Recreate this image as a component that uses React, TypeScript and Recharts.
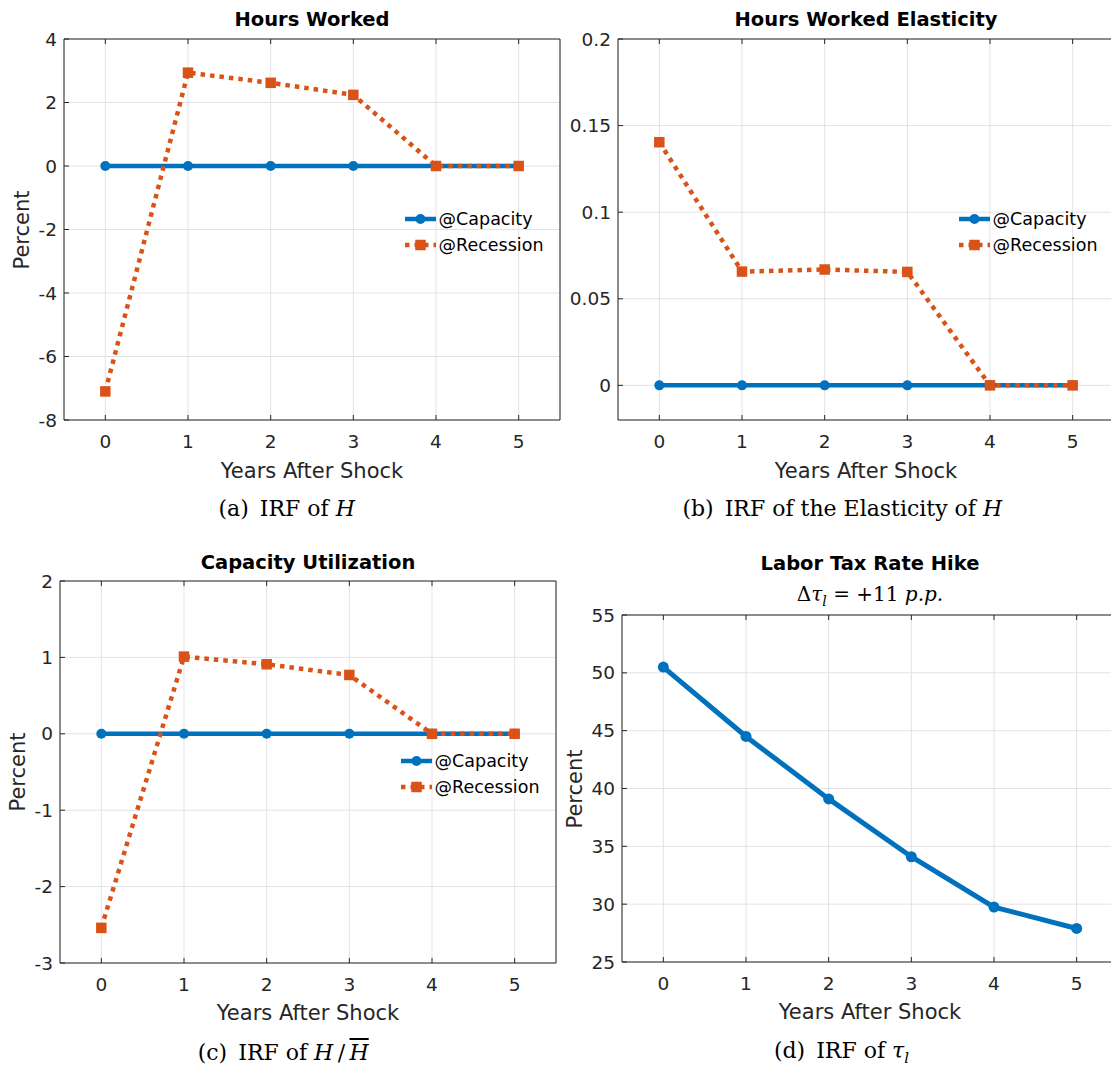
import React from 'react';
import { LineChart, Line, XAxis, YAxis, CartesianGrid, Legend } from 'recharts';

// years after the shock
const years = [0, 1, 2, 3, 4, 5];
const xTicks = [0, 1, 2, 3, 4, 5];

// (a) hours worked, percent
const hoursCapacity = [0, 0, 0, 0, 0, 0];
const hoursRecession = [-7.1, 2.94, 2.62, 2.24, 0, 0];
const hoursTicks = [-8, -6, -4, -2, 0, 2, 4];

// (b) hours worked elasticity
const elastCapacity = [0, 0, 0, 0, 0, 0];
const elastRecession = [0.1404, 0.0657, 0.0669, 0.0655, 0, 0];
const elastTicks = [0, 0.05, 0.1, 0.15, 0.2];

// (c) capacity utilization, percent
const utilCapacity = [0, 0, 0, 0, 0, 0];
const utilRecession = [-2.54, 1.01, 0.91, 0.77, 0, 0];
const utilTicks = [-3, -2, -1, 0, 1, 2];

// (d) labor tax rate, percent
const taxRate = [50.5, 44.5, 39.1, 34.1, 29.75, 27.9];
const taxTicks = [25, 30, 35, 40, 45, 50, 55];

const BLUE = '#0072BD';
const ORANGE = '#D95319';
const AXIS = '#262626';
const GRID = '#e3e3e3';
const SANS = '"DejaVu Sans", sans-serif';
const SERIF = '"DejaVu Serif", serif';
const DASH = '4.5 5';

const AX_W = 64;
const AX_H = 40;
const PAD = 10;

type Box = { left: number; top: number; width: number; height: number };
type Series = { key: string; name: string; color: string; dashed?: boolean; width?: number; r?: number };

const pairData = (a: number[], b: number[]) => years.map((t, i) => ({ t, cap: a[i], rec: b[i] }));

const squareDot = (props: any) => {
  const { cx, cy, index } = props;
  if (cx == null || cy == null) return <g key={`sq-${index}`} />;
  return <rect key={`sq-${index}`} x={cx - 5.25} y={cy - 5.25} width={10.5} height={10.5} fill={ORANGE} />;
};

const twoSeries: Series[] = [
  { key: 'cap', name: '@Capacity', color: BLUE },
  { key: 'rec', name: '@Recession', color: ORANGE, dashed: true },
];

const LegendBox = () => (
  <div style={{ fontFamily: SANS, fontSize: 17.5, color: '#000' }}>
    {twoSeries.map((s) => (
      <div key={s.key} style={{ display: 'flex', alignItems: 'center', height: 25.5, whiteSpace: 'nowrap' }}>
        <svg width={34} height={14} style={{ display: 'block' }}>
          <line x1={0} x2={31} y1={7} y2={7} stroke={s.color} strokeWidth={4.5} strokeDasharray={s.dashed ? DASH : undefined} />
          {s.dashed ? (
            <rect x={10.25} y={1.75} width={10.5} height={10.5} fill={ORANGE} />
          ) : (
            <circle cx={15.5} cy={7} r={5} fill={BLUE} />
          )}
        </svg>
        <span>{s.name}</span>
      </div>
    ))}
  </div>
);

const tickStyle = { fill: AXIS, fontSize: 18.5, fontFamily: SANS };

function Panel({ box, data, yDomain, yTicks, series, legend }: {
  box: Box; data: any[]; yDomain: [number, number]; yTicks: number[]; series: Series[]; legend?: boolean;
}) {
  const unit = box.width / 6;
  const legendLeft = AX_W + 4.12 * unit;
  return (
    <div style={{ position: 'absolute', left: box.left - AX_W, top: box.top - PAD }}>
      <LineChart
        width={box.width + AX_W + PAD}
        height={box.height + PAD + AX_H}
        data={data}
        margin={{ top: PAD - 1, right: PAD - 1, left: 0, bottom: 0 }}
      >
        <CartesianGrid stroke={GRID} />
        <XAxis type="number" dataKey="t" domain={[-0.5, 5.5]} ticks={xTicks} interval={0}
          height={AX_H} tickSize={-5} tickMargin={20} stroke={AXIS} tick={tickStyle} />
        <XAxis xAxisId="top" orientation="top" type="number" dataKey="t" domain={[-0.5, 5.5]} ticks={xTicks}
          interval={0} height={1} tickSize={-5} tickFormatter={() => ''} stroke={AXIS}
          axisLine={{ stroke: AXIS }} tickLine={{ stroke: AXIS }} />
        <YAxis type="number" domain={yDomain} ticks={yTicks} interval={0} width={AX_W}
          tickSize={-5} tickMargin={12} stroke={AXIS} tick={tickStyle} />
        <YAxis yAxisId="right" orientation="right" type="number" domain={yDomain} ticks={yTicks} interval={0}
          width={1} tickSize={-5} tickFormatter={() => ''} stroke={AXIS}
          axisLine={{ stroke: AXIS }} tickLine={{ stroke: AXIS }} />
        {series.map((s) => (
          <Line
            key={s.key}
            type="linear"
            dataKey={s.key}
            name={s.name}
            stroke={s.color}
            strokeWidth={s.width ?? 4.5}
            strokeDasharray={s.dashed ? DASH : undefined}
            dot={s.dashed ? squareDot : { r: s.r ?? 5, fill: s.color, stroke: s.color, strokeWidth: 0 }}
            activeDot={false}
            isAnimationActive={false}
          />
        ))}
        {legend && (
          <Legend
            layout="vertical"
            align="center"
            verticalAlign="middle"
            wrapperStyle={{ left: legendLeft, top: PAD + 180 - 12.75, width: 'auto' }}
            content={() => <LegendBox />}
          />
        )}
      </LineChart>
    </div>
  );
}

const Label = ({ x, y, children, style }: { x: number; y: number; children: React.ReactNode; style?: React.CSSProperties }) => (
  <div style={{
    position: 'absolute', left: x, top: y, transform: 'translate(-50%, -50%)',
    whiteSpace: 'nowrap', lineHeight: 1, ...style,
  }}>{children}</div>
);

const titleStyle: React.CSSProperties = { fontFamily: SANS, fontWeight: 'bold', fontSize: 19.5, color: '#000' };
const xLabelStyle: React.CSSProperties = { fontFamily: SANS, fontSize: 21, color: AXIS };
const yLabelStyle: React.CSSProperties = { fontFamily: SANS, fontSize: 21, color: AXIS, transform: 'translate(-50%, -50%) rotate(-90deg)' };
const capStyle: React.CSSProperties = { fontFamily: SERIF, fontSize: 22, color: '#000' };

const boxA: Box = { left: 64, top: 39, width: 496, height: 381 };
const boxB: Box = { left: 618, top: 39, width: 496, height: 381 };
const boxC: Box = { left: 60, top: 581, width: 496, height: 382 };
const boxD: Box = { left: 622, top: 615, width: 496, height: 347 };

export default function App() {
  return (
    <div style={{ position: 'absolute', left: 0, top: 0, width: 1111, height: 1068, overflow: 'hidden', background: '#fff' }}>
      <Panel box={boxA} data={pairData(hoursCapacity, hoursRecession)} yDomain={[-8, 4]} yTicks={hoursTicks} series={twoSeries} legend />
      <Panel box={boxB} data={pairData(elastCapacity, elastRecession)} yDomain={[-0.02, 0.2]} yTicks={elastTicks} series={twoSeries} legend />
      <Panel box={boxC} data={pairData(utilCapacity, utilRecession)} yDomain={[-3, 2]} yTicks={utilTicks} series={twoSeries} legend />
      <Panel
        box={boxD}
        data={years.map((t, i) => ({ t, tax: taxRate[i] }))}
        yDomain={[25, 55]}
        yTicks={taxTicks}
        series={[{ key: 'tax', name: 'Tax rate', color: BLUE, width: 5, r: 5.5 }]}
      />

      <Label x={312} y={19.5} style={titleStyle}>Hours Worked</Label>
      <Label x={866} y={19.5} style={titleStyle}>Hours Worked Elasticity</Label>
      <Label x={308} y={562.5} style={titleStyle}>Capacity Utilization</Label>
      <Label x={870} y={564} style={titleStyle}>Labor Tax Rate Hike</Label>
      <Label x={870} y={596} style={{ fontFamily: SERIF, fontSize: 20, color: '#000' }}>
        Δ<i>τ</i><sub style={{ fontSize: 14 }}><i>l</i></sub> = +11 <i>p.p.</i>
      </Label>

      <Label x={312} y={470.5} style={xLabelStyle}>Years After Shock</Label>
      <Label x={866} y={470.5} style={xLabelStyle}>Years After Shock</Label>
      <Label x={308} y={1013} style={xLabelStyle}>Years After Shock</Label>
      <Label x={870} y={1012} style={xLabelStyle}>Years After Shock</Label>

      <Label x={22.4} y={229.5} style={yLabelStyle}>Percent</Label>
      <Label x={18} y={772} style={yLabelStyle}>Percent</Label>
      <Label x={574.5} y={788.5} style={yLabelStyle}>Percent</Label>

      <Label x={286.7} y={508.5} style={capStyle}>(a)<span style={{ marginLeft: 11 }}>IRF of <i>H</i></span></Label>
      <Label x={842.3} y={508.5} style={capStyle}>(b)<span style={{ marginLeft: 11 }}>IRF of the Elasticity of <i>H</i></span></Label>
      <Label x={283.2} y={1052.5} style={capStyle}>
        (c)<span style={{ marginLeft: 11 }}>IRF of <i>H</i>{'\u2009/\u2009'}<i style={{ textDecoration: 'overline' }}>H</i></span>
      </Label>
      <Label x={841.5} y={1053} style={capStyle}>
        (d)<span style={{ marginLeft: 11 }}>IRF of <i>τ</i><sub style={{ fontSize: 15 }}><i>l</i></sub></span>
      </Label>
    </div>
  );
}
